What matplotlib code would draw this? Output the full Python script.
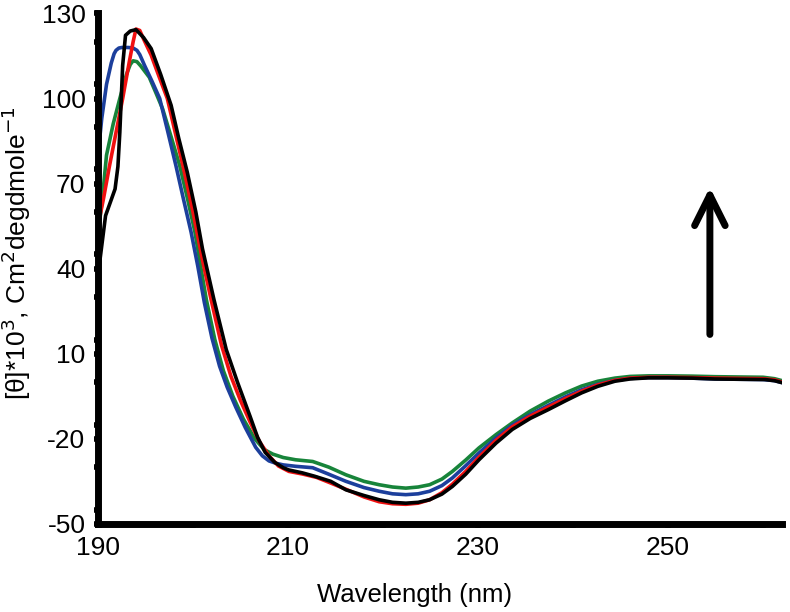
import matplotlib

matplotlib.use("Agg")

import matplotlib.pyplot as plt
from matplotlib.ticker import MultipleLocator

plt.rcParams["font.family"] = ["Liberation Sans", "DejaVu Sans"]
plt.rcParams["axes.unicode_minus"] = False

# CD spectra (wavelength in nm, [theta]*10^3)
black_nm = [190.0, 190.8, 191.8, 192.1, 192.3, 192.6, 192.9, 193.4, 194.0, 194.8,
            195.6, 196.6, 197.7, 198.5, 199.4, 200.3, 201.0, 202.2, 203.5, 204.7,
            206.0, 206.8, 207.6, 208.6, 209.5, 210.1, 211.5, 212.8, 214.5, 216.1,
            218.0, 219.6, 221.0, 222.4, 223.7, 224.9, 226.2, 227.3, 228.7, 230.1,
            231.9, 233.6, 235.5, 237.4, 239.2, 240.9, 242.6, 244.4, 246.0, 247.9,
            250.0, 252.5, 254.9, 257.5, 260.2, 261.2, 262.0]
black_val = [37.5, 58.7, 68.1, 76.0, 88.0, 111.7, 122.3, 123.8, 124.3, 121.5,
             117.6, 108.5, 97.6, 86.0, 74.0, 60.0, 47.0, 29.2, 11.5, -0.2,
             -12.0, -19.5, -24.8, -28.3, -30.2, -31.0, -32.0, -33.2, -35.0, -38.0,
             -40.0, -41.5, -42.4, -42.7, -42.4, -41.5, -39.5, -36.8, -32.5, -27.4,
             -21.5, -16.7, -12.8, -9.7, -6.6, -3.8, -1.5, 0.3, 1.1, 1.5,
             1.5, 1.4, 1.1, 1.0, 0.9, 0.5, -0.2]

red_nm = [190.0, 190.6, 191.2, 191.9, 192.6, 193.3, 193.7, 194.0, 194.4, 194.8,
          195.6, 196.4, 197.3, 198.2, 199.1, 200.0, 201.0, 201.9, 203.0, 204.0,
          205.0, 206.0, 207.0, 208.0, 209.0, 210.1, 211.5, 213.0, 214.5, 216.1,
          218.0, 219.6, 221.0, 222.4, 223.7, 224.9, 226.2, 227.3, 228.7, 230.1,
          231.9, 233.6, 235.5, 237.4, 239.2, 240.9, 242.6, 244.4, 246.0, 248.0,
          250.0, 252.5, 255.0, 257.5, 260.0, 261.2, 262.0]
red_val = [55.0, 65.0, 76.0, 88.0, 100.0, 113.0, 120.0, 124.5, 124.0, 121.0,
           115.3, 108.0, 100.0, 87.0, 74.0, 60.0, 43.0, 29.2, 13.0, 2.0,
           -6.5, -14.0, -21.0, -26.0, -29.6, -31.5, -32.4, -33.6, -35.6, -37.8,
           -40.5, -42.2, -42.9, -43.1, -42.7, -41.5, -39.0, -36.0, -31.5, -26.5,
           -20.5, -15.8, -12.0, -8.8, -5.8, -3.2, -1.0, 0.6, 1.4, 1.7,
           1.7, 1.6, 1.4, 1.3, 1.2, 0.8, 0.0]

blue_nm = [190.0, 190.4, 190.9, 191.4, 191.7, 191.9, 192.2, 192.5, 193.2, 193.7,
           194.1, 194.4, 194.9, 195.7, 196.5, 197.3, 198.2, 199.0, 199.8, 200.5,
           201.2, 202.0, 202.8, 203.6, 204.5, 205.5, 206.6, 207.3, 208.0, 208.7,
           209.5, 210.8, 212.6, 214.3, 216.1, 218.0, 219.6, 221.0, 222.4, 223.7,
           224.9, 226.2, 227.3, 228.7, 230.1, 231.9, 233.6, 235.5, 237.4, 239.2,
           240.9, 242.6, 244.4, 246.0, 248.0, 250.0, 252.5, 255.0, 257.5, 260.0,
           261.2, 262.0]
blue_val = [79.8, 93.0, 105.0, 112.5, 115.8, 117.0, 117.8, 118.0, 118.0, 117.8,
            117.0, 115.5, 111.7, 106.0, 100.0, 89.0, 76.4, 64.5, 52.9, 41.0,
            28.0, 15.5, 5.6, -1.8, -8.8, -16.0, -23.0, -26.0, -27.8, -28.6,
            -29.2, -29.7, -30.2, -32.5, -35.0, -37.2, -38.5, -39.4, -39.7, -39.4,
            -38.5, -36.5, -33.8, -29.5, -25.0, -19.7, -15.2, -11.5, -8.2, -5.2,
            -2.7, -0.8, 0.6, 1.3, 1.6, 1.6, 1.4, 1.1, 1.0, 0.9,
            0.5, -0.2]

green_nm = [190.0, 190.5, 190.9, 191.6, 192.3, 193.0, 193.4, 193.7, 194.1, 194.5,
            195.4, 196.1, 196.8, 197.7, 198.6, 199.4, 200.2, 200.8, 201.4, 202.3,
            203.2, 204.2, 205.3, 206.5, 207.5, 208.4, 209.5, 210.8, 212.6, 214.3,
            216.1, 218.0, 219.6, 221.0, 222.4, 223.7, 224.9, 226.2, 227.3, 228.7,
            230.1, 231.9, 233.6, 235.5, 237.4, 239.2, 240.9, 242.6, 244.4, 246.0,
            248.0, 250.0, 252.5, 255.0, 257.5, 260.0, 261.2, 262.0]
green_val = [51.6, 66.0, 80.0, 91.0, 100.0, 108.5, 112.0, 113.3, 113.0, 111.5,
             107.5, 102.0, 96.4, 86.5, 76.4, 65.0, 53.0, 41.0, 29.2, 15.0,
             4.0, -5.0, -13.0, -20.0, -23.8, -25.4, -26.6, -27.4, -28.0, -30.0,
             -32.7, -35.0, -36.2, -37.0, -37.4, -37.0, -36.2, -34.2, -31.5, -27.5,
             -23.2, -18.5, -14.4, -10.2, -6.7, -3.8, -1.4, 0.3, 1.4, 2.0,
             2.2, 2.2, 2.1, 1.9, 1.8, 1.7, 1.2, 0.5]

y_ticks = [-50, -20, 10, 40, 70, 100, 130]
x_ticks = [190, 210, 230, 250]

fig = plt.figure(figsize=(7.9, 6.12), dpi=100)
ax = fig.add_axes([0.124, 0.144, 0.866, 0.834])

lw = 2.6
ax.plot(green_nm, green_val, color="#17843a", lw=lw, solid_capstyle="round", solid_joinstyle="round")
ax.plot(blue_nm, blue_val, color="#1c3f9c", lw=lw, solid_capstyle="round", solid_joinstyle="round")
ax.plot(red_nm, red_val, color="#f01010", lw=lw, solid_capstyle="round", solid_joinstyle="round")
ax.plot(black_nm, black_val, color="black", lw=lw, solid_capstyle="round", solid_joinstyle="round")

# upward arrow
ax.annotate("", xy=(254.4, 68.7), xytext=(254.4, 16.8),
            arrowprops=dict(arrowstyle="->,head_length=1.1,head_width=0.55",
                            mutation_scale=20, lw=5, color="black",
                            capstyle="round", joinstyle="round",
                            shrinkA=0, shrinkB=0))

ax.set_xlim(190, 262)
ax.set_ylim(-50, 130)
ax.set_xticks(x_ticks)
ax.set_yticks(y_ticks)
ax.xaxis.set_minor_locator(MultipleLocator(10))
ax.yaxis.set_minor_locator(MultipleLocator(15))

for side in ["top", "right"]:
    ax.spines[side].set_visible(False)
for side in ["left", "bottom"]:
    ax.spines[side].set_linewidth(5)

ax.tick_params(which="both", direction="out", length=3, width=4, labelsize=19, pad=6)

ax.set_xlabel("Wavelength (nm)", fontsize=18.5)
ax.xaxis.set_label_coords(0.4635, -0.116)
ax.set_ylabel(r"[θ]*10$^3$, Cm$^2$degdmole$^{-1}$", fontsize=19)
ax.yaxis.set_label_coords(-0.095, 0.53)

fig.savefig("out.png", dpi=100)
plt.close(fig)
